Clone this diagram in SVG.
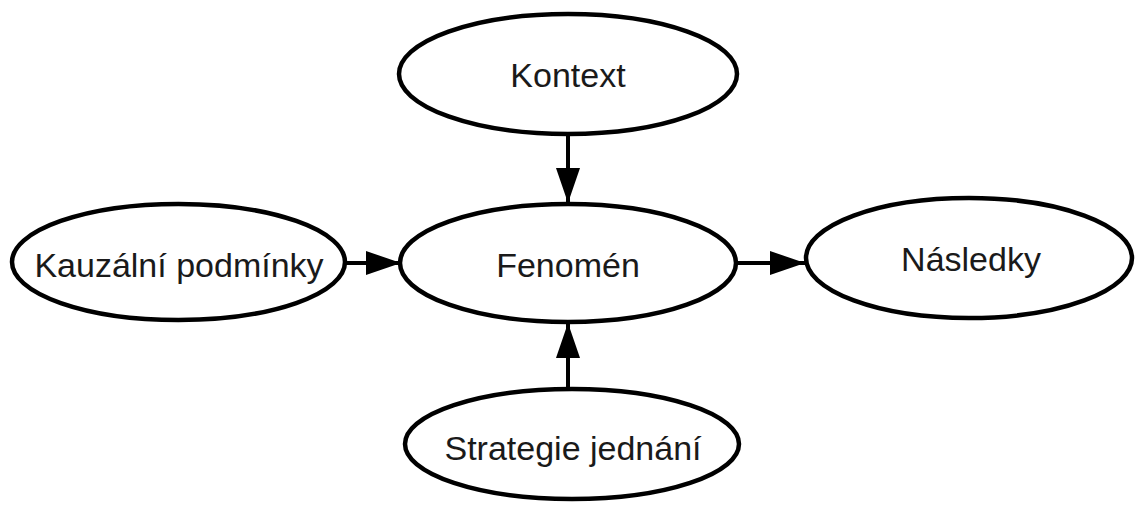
<svg xmlns="http://www.w3.org/2000/svg" width="1135" height="506" viewBox="0 0 1135 506">
  <style>
    .node ellipse { fill: #ffffff; stroke: #000000; stroke-width: 4.5; }
    .node text { font-family: "Liberation Sans", Arial, sans-serif; font-size: 34px; fill: #1a1a1a; text-anchor: middle; }
    .edge { stroke: #000000; stroke-width: 4; fill: none; marker-end: url(#arrow); }
  </style>
  <defs>
    <marker id="arrow" viewBox="0 0 35 24" refX="35" refY="12" markerWidth="35" markerHeight="24" markerUnits="userSpaceOnUse" orient="auto">
      <path d="M0,0 L35,12 L0,24 Z" fill="#000000"/>
    </marker>
  </defs>
  <rect width="1135" height="506" fill="#ffffff"/>
  <g id="connectors">
    <path class="edge" d="M568,134 L568,203"/>
    <path class="edge" d="M345,263 L401,263"/>
    <path class="edge" d="M736,263 L805,263"/>
    <path class="edge" d="M568,389 L568,323"/>
  </g>
  <g id="node-kontext" class="node">
    <ellipse cx="568" cy="74" rx="169" ry="60"/>
    <text x="568" y="87">Kontext</text>
  </g>
  <g id="node-fenomen" class="node">
    <ellipse cx="568" cy="263" rx="168" ry="59"/>
    <text x="568" y="277">Fenomén</text>
  </g>
  <g id="node-kauzalni" class="node">
    <ellipse cx="178.5" cy="262" rx="166.5" ry="58"/>
    <text x="179" y="277">Kauzální podmínky</text>
  </g>
  <g id="node-nasledky" class="node">
    <ellipse cx="969" cy="258" rx="163" ry="60"/>
    <text x="971" y="271">Následky</text>
  </g>
  <g id="node-strategie" class="node">
    <ellipse cx="572" cy="444" rx="167" ry="55"/>
    <text x="573" y="460">Strategie jednání</text>
  </g>
</svg>
